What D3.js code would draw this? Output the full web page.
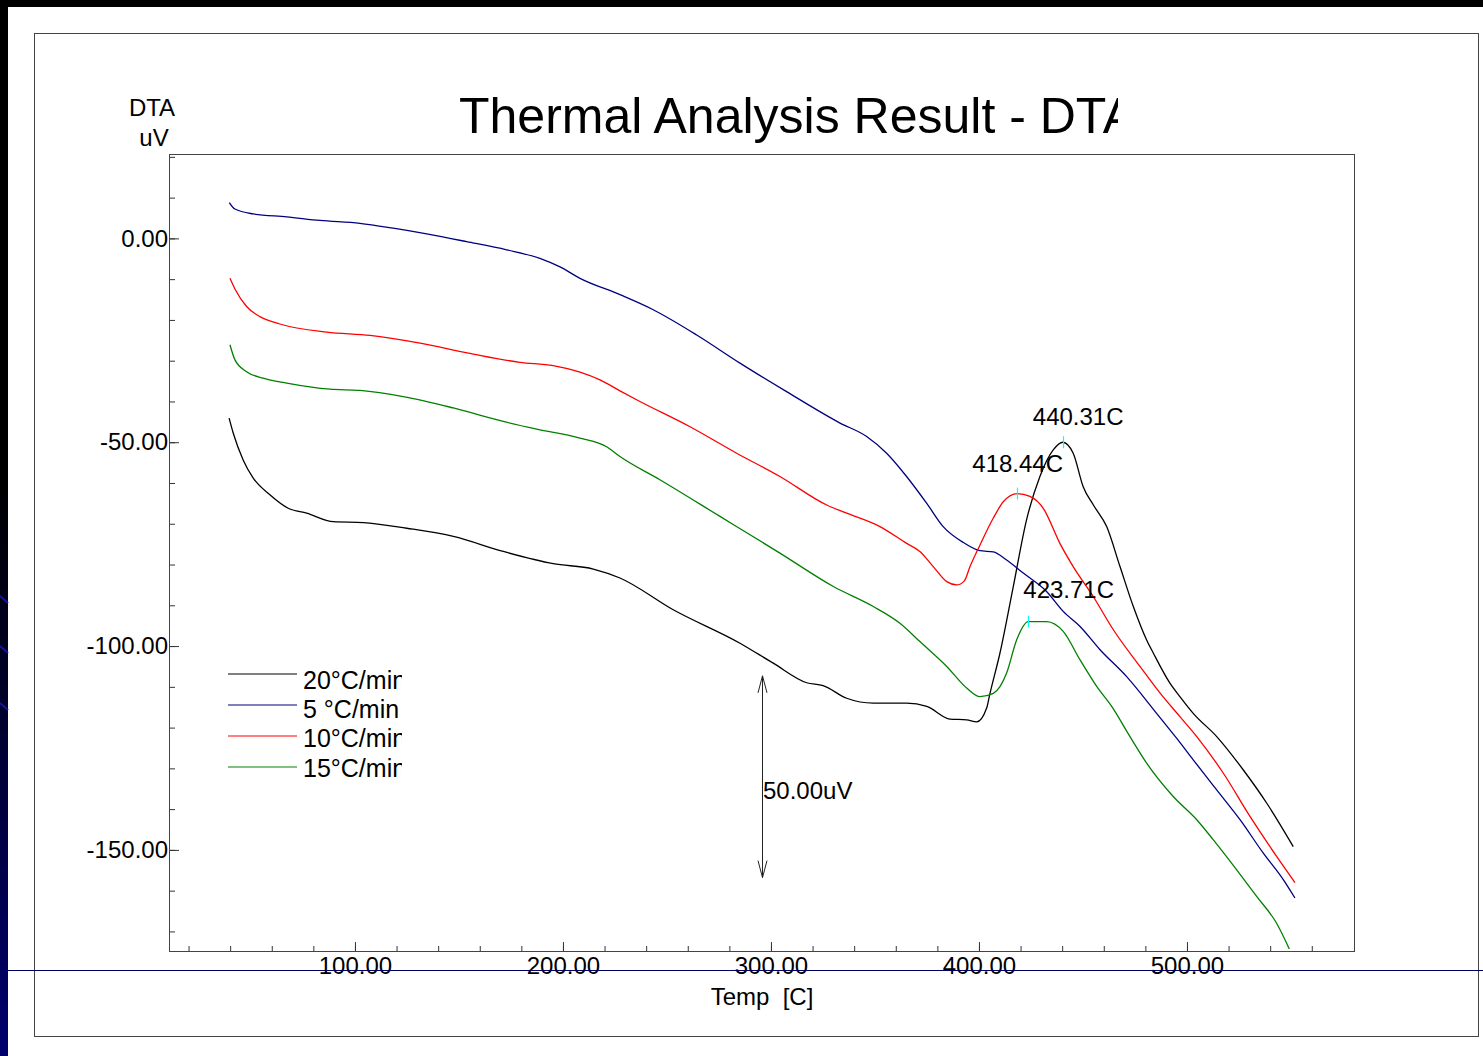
<!DOCTYPE html>
<html>
<head>
<meta charset="utf-8">
<title>Thermal Analysis Result - DTA</title>
<script src="https://d3js.org/d3.v7.min.js"></script>
<style>
  body { margin: 0; background: #000; overflow: hidden; }
  svg text { font-family: "Liberation Sans", Arial, Helvetica, sans-serif; fill: #000; }
</style>
</head>
<body>
<div id="chart"></div>
<script>

// DTA runs at four heating rates, [temperature C, signal uV]
var run20 = [[39.5,-44.1],[41.5,-47.8],[46.3,-54.4],[51.1,-58.8],[59.1,-62.9],[67.9,-66.2],[76.8,-67.4],[89.6,-69.5],[104,-69.7],[124.9,-71.1],[147.3,-73.1],[171.3,-76.8],[195.3,-79.8],[214.6,-81.1],[227.4,-83.3],[253,-91.1],[285.1,-99.3],[301.1,-104.2],[317.2,-109],[325.1,-109.7],[336.4,-112.8],[349.2,-114],[365.2,-114],[374.9,-114.8],[386.1,-117.9],[394.1,-118.1],[398.9,-118.6],[403.7,-115.2],[405.3,-111.6],[410.1,-101.7],[416.5,-85.4],[422.9,-69],[429.3,-58.4],[435.7,-51.9],[440.31,-50.0],[445.3,-52.7],[450.1,-60.9],[455,-65.4],[461.4,-70.7],[467.8,-80.5],[474.2,-90.3],[480.6,-98.5],[483.8,-101.7],[491.8,-109.1],[496.6,-112.4],[503,-116.5],[514.3,-122.2],[527.1,-130.4],[538.3,-138.5],[551.1,-149.2]];

var run5 = [[39.6,8.8],[42.3,7.2],[51.1,6.0],[67.2,5.3],[83.2,4.4],[102.4,3.7],[118.4,2.5],[134.5,1.1],[153.7,-0.8],[172.9,-2.8],[188.9,-4.9],[198.6,-7.0],[208.2,-9.8],[227.4,-13.8],[243.4,-17.5],[264.3,-23.7],[285.1,-30.6],[307.5,-37.6],[333.2,-45.3],[346,-48.6],[355.6,-52.7],[365.2,-58.4],[374.9,-65],[382.8,-70.7],[392.5,-74.6],[400.5,-76.6],[406.9,-76.9],[413.3,-78.9],[421.3,-82.1],[432.5,-86.6],[440.5,-91.5],[448.6,-95.2],[458.2,-100.9],[471,-107.5],[485.4,-116.5],[495,-122.6],[503,-127.9],[514.3,-135.3],[525.5,-142.6],[536.7,-150.8],[546.3,-157.3],[551.9,-161.8]];

var run10 = [[39.9,-9.8],[42.3,-12.4],[47.9,-16.7],[54.3,-19.2],[63.9,-21],[86.4,-23],[107.2,-23.8],[131.3,-25.7],[155.3,-28.2],[179.3,-30.4],[195.3,-31.2],[208.2,-32.8],[217.8,-34.7],[227.4,-37.4],[237,-40],[261.1,-46.2],[283.5,-52.7],[304.3,-58.4],[326.8,-65.4],[336.4,-67.4],[352.4,-70.7],[365.2,-74.8],[371.6,-76.8],[378,-80.5],[384.5,-84.2],[389.3,-85.0],[393,-84],[395.7,-80.5],[400.5,-75.2],[406.9,-68.6],[411.7,-64.6],[418.44,-62.6],[424.5,-63.3],[430.9,-66.2],[438.9,-74.8],[445.3,-80.5],[455,-87.9],[464.6,-96],[477.4,-105],[487,-111.5],[496.6,-117.3],[504.7,-122.2],[517.5,-131.2],[530.3,-141.8],[543.1,-151.6],[551.9,-158]];

var run15 = [[39.9,-26.1],[42.3,-29.8],[47.9,-32.7],[55.9,-34.3],[67.2,-35.5],[88,-37],[102.4,-37.3],[123.2,-38.8],[147.3,-41.6],[171.3,-44.9],[187.4,-46.8],[208.2,-49],[221,-51.1],[227.4,-53.5],[246.6,-59.2],[275.5,-68.2],[304.3,-77.2],[330,-85.4],[349.2,-90.3],[362,-94.4],[371.6,-98.9],[384.5,-105],[394.1,-110.3],[400.5,-112.4],[406.9,-111.6],[413.3,-106.6],[418.1,-98.5],[423.71,-94.0],[432.5,-94],[440.5,-96.4],[448.6,-103.4],[456.6,-109.9],[463.8,-114.8],[472.6,-122.2],[480.6,-128.7],[493.4,-136.9],[504.7,-142.6],[512.6,-147.5],[523.9,-154.9],[533.5,-161.4],[543.1,-168],[549.2,-174.3]];

var runs = [run20, run5, run10, run15];
var runNames = ["20°C/min", "5 °C/min", "10°C/min", "15°C/min"];
var runColors = ["#000000", "#000080", "#ff0000", "#008000"];

// peak temperatures picked on the 20, 10 and 15 C/min runs
var peakTemps = [440.31, 418.44, 423.71];
var peakValues = [-50.0, -62.6, -94.0];
var peakLabels = ["440.31C", "418.44C", "423.71C"];
var peakLabelOffsets = [[-30, -17], [-45, -22], [-5, -24]];

var xTicks = [100, 200, 300, 400, 500];
var yTicks = [0, -50, -100, -150];

// 50 uV scale bar
var barTemp = 295.7;
var barRange = [-107.3, -156.8];
var barLabel = "50.00uV";

var W = 1483, H = 1056;
var plot = {left: 169, top: 154, right: 1354, bottom: 951};

// plain hyphen for negatives, two decimals
function fmt(v) { return v.toFixed(2); }

var svg = d3.select("#chart").append("svg")
    .attr("width", W)
    .attr("height", H);

var defs = svg.append("defs");
var grad = defs.append("linearGradient")
    .attr("id", "strip").attr("x1", 0).attr("y1", 0).attr("x2", 0).attr("y2", 1);
grad.append("stop").attr("offset", "0%").attr("stop-color", "#000");
grad.append("stop").attr("offset", "45%").attr("stop-color", "#000");
grad.append("stop").attr("offset", "100%").attr("stop-color", "#00006e");

defs.append("clipPath").attr("id", "plotclip").append("rect")
    .attr("x", plot.left).attr("y", plot.top)
    .attr("width", plot.right - plot.left).attr("height", plot.bottom - plot.top);
defs.append("clipPath").attr("id", "titleclip").append("rect")
    .attr("x", 0).attr("y", 0).attr("width", 1118).attr("height", 200);
defs.append("clipPath").attr("id", "legendclip").append("rect")
    .attr("x", 0).attr("y", 600).attr("width", 402).attr("height", 250);

// slide background
svg.append("rect").attr("x", 0).attr("y", 0).attr("width", W).attr("height", H).attr("fill", "#000");
svg.append("rect").attr("x", 0).attr("y", 0).attr("width", 8).attr("height", H).attr("fill", "url(#strip)");
svg.append("rect").attr("x", 8).attr("y", 7).attr("width", W - 8).attr("height", H - 7).attr("fill", "#fff");
[600, 650, 707].forEach(function(yy) {
  svg.append("line").attr("x1", 0).attr("y1", yy - 4).attr("x2", 8).attr("y2", yy + 3)
      .attr("stroke", "#1414a0").attr("stroke-width", 2);
});

// outer frame
svg.append("rect")
    .attr("x", 34.5).attr("y", 33.5).attr("width", 1444).attr("height", 1003)
    .attr("fill", "none").attr("stroke", "#444").attr("stroke-width", 1);

var x = d3.scaleLinear().domain([10.6, 580.3]).range([plot.left, plot.right]);
var y = d3.scaleLinear().domain([20.7, -174.8]).range([plot.top, plot.bottom]);

// title
svg.append("text")
    .attr("clip-path", "url(#titleclip)")
    .attr("x", 459).attr("y", 133)
    .style("font-size", "50px")
    .text("Thermal Analysis Result - DTA");

svg.append("text").attr("x", 152).attr("y", 116).attr("text-anchor", "middle")
    .style("font-size", "24px").text("DTA");
svg.append("text").attr("x", 154).attr("y", 146).attr("text-anchor", "middle")
    .style("font-size", "24px").text("uV");

// axes, ticks pointing into the plot
var minorY = d3.range(20, -171, -10);
var minorX = d3.range(20, 561, 20);

svg.append("g")
    .attr("transform", "translate(" + plot.left + ",0)")
    .call(d3.axisLeft(y).tickValues(minorY).tickSizeInner(-6).tickSizeOuter(0).tickFormat(""))
    .call(function(g) { g.select(".domain").remove(); });
svg.append("g")
    .attr("class", "axis axis--y")
    .attr("transform", "translate(" + plot.left + ",0)")
    .call(d3.axisLeft(y).tickValues(yTicks).tickSizeInner(-10).tickSizeOuter(0).tickPadding(1)
        .tickFormat(fmt))
    .call(function(g) { g.select(".domain").remove(); });

svg.append("g")
    .attr("transform", "translate(0," + plot.bottom + ")")
    .call(d3.axisBottom(x).tickValues(minorX).tickSizeInner(-5).tickSizeOuter(0).tickFormat(""))
    .call(function(g) { g.select(".domain").remove(); });
svg.append("g")
    .attr("class", "axis axis--x")
    .attr("transform", "translate(0," + plot.bottom + ")")
    .call(d3.axisBottom(x).tickValues(xTicks).tickSizeInner(-9).tickSizeOuter(0).tickPadding(6)
        .tickFormat(fmt))
    .call(function(g) { g.select(".domain").remove(); });

svg.selectAll(".tick line").attr("stroke", "#333");
svg.selectAll(".axis text")
    .style("font-size", "24px")
    .attr("fill", "#000")
    .style("font-family", '"Liberation Sans", Arial, sans-serif');

// plot frame
svg.append("rect")
    .attr("x", plot.left + 0.5).attr("y", plot.top + 0.5)
    .attr("width", plot.right - plot.left).attr("height", plot.bottom - plot.top)
    .attr("fill", "none").attr("stroke", "#444");

svg.append("text")
    .attr("x", 762).attr("y", 1005).attr("text-anchor", "middle")
    .style("font-size", "24px").attr("xml:space", "preserve")
    .text("Temp  [C]");

// curves
var line = d3.line()
    .x(function(d) { return x(d[0]); })
    .y(function(d) { return y(d[1]); })
    .curve(d3.curveMonotoneX);

var curves = svg.append("g").attr("clip-path", "url(#plotclip)");
runs.forEach(function(r, i) {
  curves.append("path")
      .datum(r)
      .attr("d", line)
      .attr("fill", "none")
      .attr("stroke", runColors[i])
      .attr("stroke-width", 1.3);
});

// peak markers and labels
peakTemps.forEach(function(t, i) {
  var px = Math.round(x(t)) + 0.5, py = y(peakValues[i]);
  svg.append("line")
      .attr("x1", px).attr("x2", px).attr("y1", py - 6).attr("y2", py + 6)
      .attr("stroke", "#00ffff").attr("stroke-width", 1.2);
  svg.append("text")
      .attr("x", x(t) + peakLabelOffsets[i][0])
      .attr("y", y(peakValues[i]) + peakLabelOffsets[i][1])
      .style("font-size", "24px")
      .text(peakLabels[i]);
});

// scale bar
var bx = Math.round(x(barTemp)) + 0.5;
var by0 = y(barRange[0]), by1 = y(barRange[1]);
var bar = svg.append("g").attr("stroke", "#222").attr("fill", "none").attr("stroke-width", 1);
bar.append("line").attr("x1", bx).attr("x2", bx).attr("y1", by0).attr("y2", by1);
bar.append("polyline").attr("points", [[bx - 4.5, by0 + 17], [bx, by0], [bx + 4.5, by0 + 17]].join(" "));
bar.append("polyline").attr("points", [[bx - 4.5, by1 - 17], [bx, by1], [bx + 4.5, by1 - 17]].join(" "));
svg.append("text")
    .attr("x", bx + 0.5).attr("y", (by0 + by1) / 2 + 22)
    .style("font-size", "24px")
    .text(barLabel);

// legend
var legend = svg.append("g");
runNames.forEach(function(name, i) {
  var ly = 674 + i * 31;
  legend.append("line")
      .attr("x1", 228).attr("x2", 297).attr("y1", ly).attr("y2", ly)
      .attr("stroke", runColors[i]).attr("stroke-width", 1);
  legend.append("text")
      .attr("clip-path", "url(#legendclip)")
      .attr("x", 303).attr("y", 689 + i * 29.2)
      .style("font-size", "25px")
      .text(name);
});

// slide rule line across the bottom
svg.append("line")
    .attr("x1", 8).attr("x2", W).attr("y1", 970.5).attr("y2", 970.5)
    .attr("stroke", "#000060").attr("stroke-width", 1);

</script>
</body>
</html>
